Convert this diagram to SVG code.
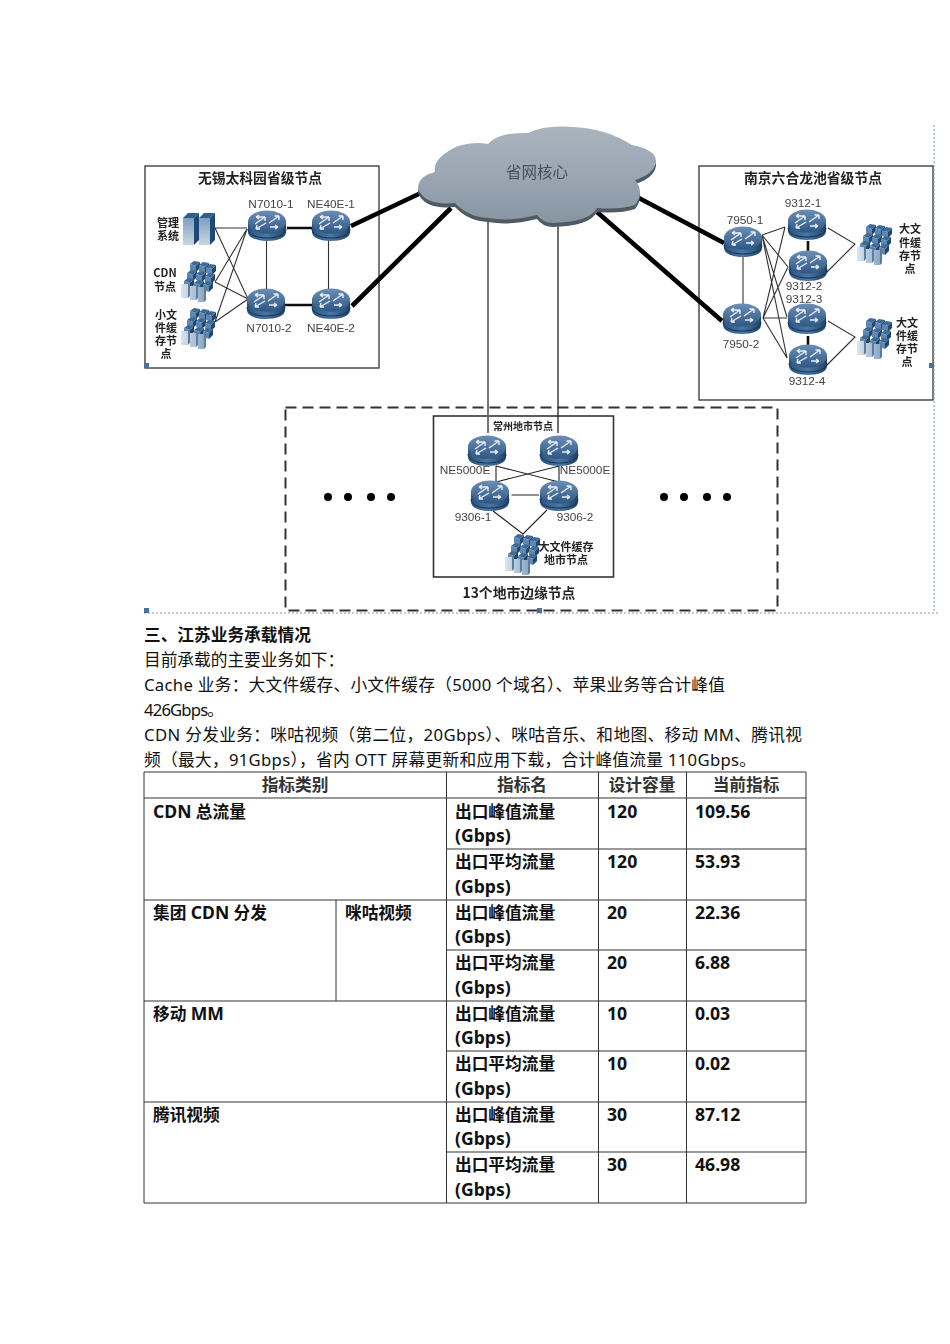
<svg xmlns="http://www.w3.org/2000/svg" xmlns:xlink="http://www.w3.org/1999/xlink" width="950" height="1344" viewBox="0 0 950 1344">
<style>
text{font-family:"Open Sans","Noto Sans CJK SC",sans-serif;fill:#111}
.lb{font-size:11.8px;fill:#444;text-anchor:middle;font-family:"Liberation Sans","Noto Sans CJK SC",sans-serif}
.tt{font-size:13.8px;font-weight:700;fill:#222;text-anchor:middle;font-family:"Noto Sans CJK SC",sans-serif}
.sm{font-size:11px;font-weight:700;fill:#222;text-anchor:middle;font-family:"Noto Sans CJK SC",sans-serif}
.box{fill:#fff;stroke:#333;stroke-width:1.3}
.thin{stroke:#333;stroke-width:1.1;fill:none}
.mid{stroke:#111;stroke-width:2.6;fill:none}
.thick{stroke:#000;stroke-width:4.6;fill:none}
.sel{stroke:#7d97b3;stroke-width:1;stroke-dasharray:2 2;fill:none}
.h{fill:#4a7099}
.body{font-size:16.7px;font-family:"Noto Sans","Noto Sans CJK SC",sans-serif}
.b{font-size:16.7px;font-weight:700;font-family:"Noto Sans","Noto Sans CJK SC",sans-serif}
.n{font-size:17.6px;font-weight:700;font-family:"Noto Sans","Noto Sans CJK SC",sans-serif}
.hd{font-size:16.7px;font-weight:700;fill:#333;text-anchor:middle;font-family:"Noto Sans CJK SC",sans-serif}
.grid{stroke:#333;stroke-width:1;fill:none}
</style>
<defs>
<linearGradient id="rt" x1="0" y1="0" x2="0" y2="1"><stop offset="0" stop-color="#6b8fb6"/><stop offset="1" stop-color="#2f5785"/></linearGradient>
<linearGradient id="rb" x1="0" y1="0" x2="1" y2="0"><stop offset="0" stop-color="#2a547f"/><stop offset=".5" stop-color="#4a76a3"/><stop offset="1" stop-color="#1f4369"/></linearGradient>
<linearGradient id="cl" x1="0" y1="0" x2="0" y2="1"><stop offset="0" stop-color="#a9b4be"/><stop offset=".5" stop-color="#9aa6b2"/><stop offset="1" stop-color="#8795a3"/></linearGradient>
<linearGradient id="sv" x1="0" y1="0" x2="1" y2="0"><stop offset="0" stop-color="#dce5ed"/><stop offset="1" stop-color="#8aa8c4"/></linearGradient>
<linearGradient id="sv2" x1="0" y1="0" x2="0" y2="1"><stop offset="0" stop-color="#7f9fbf"/><stop offset="1" stop-color="#c9d6e2"/></linearGradient>
<filter id="soft" x="-2%" y="-2%" width="104%" height="104%"><feGaussianBlur stdDeviation="0.45"/></filter>
<path id="cloudshape" d="M418 189Q418 176 435 172Q432 158 458 146Q475 141 488 144Q498 132 528 133Q545 125 572 127Q605 128 632 145Q657 150 656 162Q654 174 635 180Q645 192 635 205Q620 210 597 208Q590 222 552 223Q542 222 537 215Q510 222 488 218Q468 217 455 203Q425 206 418 189Z"/>
<g id="router">
<path d="M-19 -4V6C-19 12 -10 15 0 15S19 12 19 6V-4Z" fill="url(#rb)"/>
<path d="M-19 3C-19 9 -10 12 0 12S19 9 19 3" fill="none" stroke="#16324f" stroke-width="1"/>
<ellipse cx="0" cy="-4" rx="19" ry="11.500" fill="url(#rt)"/>
<path d="M-12 -2L-2 -9M-2 -9H-6.500M-2 -9V-5M12 -10L2 -3M12 -10H7.500M12 -10V-6M-11 -9H-3M-11 -9L-8 -11M-11 -9L-8 -7M11 1H3M11 1L8 -1M11 1L8 3M-11 3L-1 -3M-11 3H-7M-11 3L-10 -1" stroke="#e8eef5" stroke-width="1.4" fill="none"/>
</g>
<g id="srv"><rect x="0" y="3" width="11" height="27" fill="url(#sv2)"/><path d="M0 3L5 -2H16L11 3Z" fill="#2f5e90"/><path d="M11 3L16 -2V25L11 30Z" fill="#1f4a78"/></g>
<g id="pair"><use xlink:href="#srv" x="0" y="3"/><use xlink:href="#srv" x="16" y="3"/></g>
<g id="tile"><path d="M0 3L4 0L10 1L6 5Z" fill="#3d6a99"/><path d="M0 3L6 5V11L0 9Z" fill="#5d87b0"/><path d="M6 5L10 1V7L6 11Z" fill="#23466d"/></g>
<g id="cluster">
<use xlink:href="#tile" x="9" y="0"/><use xlink:href="#tile" x="18" y="1"/><use xlink:href="#tile" x="25" y="3"/>
<use xlink:href="#tile" x="6" y="9"/><use xlink:href="#tile" x="15" y="10"/><use xlink:href="#tile" x="24" y="12"/>
<use xlink:href="#tile" x="3" y="17"/><use xlink:href="#tile" x="13" y="19"/><use xlink:href="#tile" x="22" y="20"/>
<path d="M0 23H7V37H0ZM9 25H15V39H9ZM17 26H23V41H17Z" fill="url(#sv)"/>
<path d="M7 23L9 21V35L7 37ZM15 25L17 23V37L15 39ZM23 26L25 24V39L23 41Z" fill="#5d7d9d"/>
</g>
</defs>

<g id="diagram" filter="url(#soft)">
<g id="box-wuxi"><rect class="box" x="145" y="166" width="234" height="202"/><text class="tt" x="260" y="183">无锡太科园省级节点</text></g>
<g id="box-nanjing"><rect class="box" x="699" y="166" width="234" height="234"/><text class="tt" x="813" y="183">南京六合龙池省级节点</text></g>
<g id="box-edge"><rect x="285.500" y="407.500" width="492" height="203" fill="none" stroke="#333" stroke-width="2" stroke-dasharray="11 6"/></g>
<g id="box-changzhou"><rect class="box" x="433.500" y="416" width="180" height="161" style="stroke-width:1.6"/><text class="sm" x="523" y="430" style="font-size:10px">常州地市节点</text></g>

<g id="connectors">
<path class="thin" d="M215 228H247M215 228L248 299M215 282L247 229M215 282L248 299M215 322L247 229M215 322L248 299"/>
<path class="mid" d="M287 228H312M285 305H312"/>
<path class="thin" d="M266.500 240V290M328.500 240V290"/>
<path class="thick" d="M351 226L423 192M352 306L451 208"/>
<path class="thick" d="M637 197L724 243M597 212L722 321"/>
<path d="M488 218V433" fill="none" stroke="#666" stroke-width="1.8"/>
<path d="M558 220V433" fill="none" stroke="#222" stroke-width="1.3"/>
<path class="thin" d="M743 254V305"/>
<path class="thin" d="M762 235L785 227M762 235L788 267M762 235L787 317M762 235L787 358M763 318L785 227M763 318L788 267M763 318L787 318M763 318L787 358"/>
<path class="mid" d="M808 241V252M808 336V346"/>
<path class="thin" d="M828 228L855 244L826 273M828 321L855 337L826 366"/>
<path class="thin" d="M496 466L559 482M559 466L496 482M496 466V482M559 466V482M511.500 495H539M493 511L523 534L547 510" style="stroke:#222"/>
</g>

<g id="cloud">
<use xlink:href="#cloudshape" fill="#4f5a64" transform="translate(0,4)"/>
<use xlink:href="#cloudshape" fill="url(#cl)"/>
<text x="537" y="178" font-size="15.500" text-anchor="middle" style="fill:#47505a;font-family:'Noto Sans CJK SC',sans-serif">省网核心</text>
</g>

<g id="wuxi-nodes">
<g id="mgmt"><use xlink:href="#pair" x="183" y="212"/><text class="sm" x="168" y="227">管理</text><text class="sm" x="168" y="240">系统</text></g>
<g id="cdn"><use xlink:href="#cluster" x="181" y="261"/><text class="sm" x="165" y="277">CDN</text><text class="sm" x="165" y="291">节点</text></g>
<g id="small-cache"><use xlink:href="#cluster" x="181" y="308"/><text class="sm" x="166" y="319">小文</text><text class="sm" x="166" y="332">件缓</text><text class="sm" x="166" y="345">存节</text><text class="sm" x="166" y="358">点</text></g>
<g id="n7010-1"><use xlink:href="#router" x="267" y="226"/><text class="lb" x="271" y="208">N7010-1</text></g>
<g id="ne40e-1"><use xlink:href="#router" x="331" y="226"/><text class="lb" x="331" y="208">NE40E-1</text></g>
<g id="n7010-2"><use xlink:href="#router" x="266" y="304"/><text class="lb" x="269" y="332">N7010-2</text></g>
<g id="ne40e-2"><use xlink:href="#router" x="331" y="304"/><text class="lb" x="331" y="332">NE40E-2</text></g>
</g>

<g id="nanjing-nodes">
<g id="r7950-1"><use xlink:href="#router" x="743" y="242"/><text class="lb" x="745" y="224">7950-1</text></g>
<g id="r7950-2"><use xlink:href="#router" x="742" y="319"/><text class="lb" x="741" y="348">7950-2</text></g>
<g id="r9312-1"><use xlink:href="#router" x="807" y="225"/><text class="lb" x="803" y="207">9312-1</text></g>
<g id="r9312-2"><use xlink:href="#router" x="808" y="266"/><text class="lb" x="804" y="290">9312-2</text></g>
<g id="r9312-3"><use xlink:href="#router" x="807" y="319"/><text class="lb" x="804" y="303">9312-3</text></g>
<g id="r9312-4"><use xlink:href="#router" x="808" y="360"/><text class="lb" x="807" y="385">9312-4</text></g>
<g id="cache-a"><use xlink:href="#cluster" x="857" y="224"/><text class="sm" x="910" y="233">大文</text><text class="sm" x="910" y="247">件缓</text><text class="sm" x="910" y="260">存节</text><text class="sm" x="910" y="273">点</text></g>
<g id="cache-b"><use xlink:href="#cluster" x="857" y="318"/><text class="sm" x="907" y="327">大文</text><text class="sm" x="907" y="340">件缓</text><text class="sm" x="907" y="353">存节</text><text class="sm" x="907" y="366">点</text></g>
</g>

<g id="changzhou-nodes">
<g id="ne5000-1"><use xlink:href="#router" x="487" y="451"/><text class="lb" x="465" y="474">NE5000E</text></g>
<g id="ne5000-2"><use xlink:href="#router" x="559" y="451"/><text class="lb" x="585" y="474">NE5000E</text></g>
<g id="s9306-1"><use xlink:href="#router" x="490" y="496"/><text class="lb" x="473" y="521">9306-1</text></g>
<g id="s9306-2"><use xlink:href="#router" x="559" y="496"/><text class="lb" x="575" y="521">9306-2</text></g>
<g id="cache-c"><use xlink:href="#cluster" x="505" y="534"/><text class="sm" x="566" y="551">大文件缓存</text><text class="sm" x="566" y="564">地市节点</text></g>
</g>
<text x="519" y="598" font-size="13.800" font-weight="700" text-anchor="middle" style="fill:#222;font-family:'Noto Sans CJK SC',sans-serif">13个地市边缘节点</text>
<g id="dots" fill="#000"><circle cx="328" cy="497" r="4"/><circle cx="348" cy="497" r="4"/><circle cx="371" cy="497" r="4"/><circle cx="391" cy="497" r="4"/><circle cx="664" cy="497" r="4"/><circle cx="684" cy="497" r="4"/><circle cx="707" cy="497" r="4"/><circle cx="727" cy="497" r="4"/></g>
</g>

<g id="selection">
<path class="sel" d="M144 613H938M934 125V613"/>
<rect class="h" x="144" y="363" width="5" height="5"/><rect class="h" x="929" y="363" width="5" height="5"/><rect class="h" x="144" y="608" width="5" height="5"/><rect class="h" x="537" y="608" width="5" height="5"/>
</g>

<g id="text-block">
<text class="b" x="144" y="641">三、江苏业务承载情况</text>
<text class="body" x="144" y="666">目前承载的主要业务如下：</text>
<text class="body" x="144" y="691" textLength="581" lengthAdjust="spacing">Cache 业务：大文件缓存、小文件缓存（5000 个域名）、苹果业务等合计峰值</text>
<text class="body" x="144" y="716" textLength="80" lengthAdjust="spacing">426Gbps。</text>
<text class="body" x="144" y="741" textLength="658" lengthAdjust="spacing">CDN 分发业务：咪咕视频（第二位，20Gbps）、咪咕音乐、和地图、移动 MM、腾讯视</text>
<text class="body" x="144" y="766" textLength="612" lengthAdjust="spacing">频（最大，91Gbps），省内 OTT 屏幕更新和应用下载，合计峰值流量 110Gbps。</text>
</g>

<g id="table">
<path class="grid" d="M144 772H806M144 798H806M446 849H806M144 900H806M446 950H806M144 1001H806M446 1051H806M144 1102H806M446 1152H806M144 1203H806"/>
<path class="grid" d="M144 772V1203M446.500 772V1203M598.500 772V1203M686.500 772V1203M806 772V1203M336 900V1001"/>
<text class="hd" x="295" y="791">指标类别</text><text class="hd" x="522" y="791">指标名</text><text class="hd" x="642" y="791">设计容量</text><text class="hd" x="746" y="791">当前指标</text>
<text class="b" x="153" y="818"><tspan class="n">CDN</tspan> 总流量</text>
<text class="b" x="153" y="919">集团 <tspan class="n">CDN</tspan> 分发</text><text class="b" x="345" y="919">咪咕视频</text>
<text class="b" x="153" y="1020">移动 <tspan class="n">MM</tspan></text>
<text class="b" x="153" y="1121">腾讯视频</text>
<g class="rows">
<text class="b" x="455" y="818">出口峰值流量</text><text class="n" x="455" y="842">(Gbps)</text><text class="n" x="607" y="818">120</text><text class="n" x="695" y="818">109.56</text>
<text class="b" x="455" y="868">出口平均流量</text><text class="n" x="455" y="893">(Gbps)</text><text class="n" x="607" y="868">120</text><text class="n" x="695" y="868">53.93</text>
<text class="b" x="455" y="919">出口峰值流量</text><text class="n" x="455" y="943">(Gbps)</text><text class="n" x="607" y="919">20</text><text class="n" x="695" y="919">22.36</text>
<text class="b" x="455" y="969">出口平均流量</text><text class="n" x="455" y="994">(Gbps)</text><text class="n" x="607" y="969">20</text><text class="n" x="695" y="969">6.88</text>
<text class="b" x="455" y="1020">出口峰值流量</text><text class="n" x="455" y="1044">(Gbps)</text><text class="n" x="607" y="1020">10</text><text class="n" x="695" y="1020">0.03</text>
<text class="b" x="455" y="1070">出口平均流量</text><text class="n" x="455" y="1095">(Gbps)</text><text class="n" x="607" y="1070">10</text><text class="n" x="695" y="1070">0.02</text>
<text class="b" x="455" y="1121">出口峰值流量</text><text class="n" x="455" y="1145">(Gbps)</text><text class="n" x="607" y="1121">30</text><text class="n" x="695" y="1121">87.12</text>
<text class="b" x="455" y="1171">出口平均流量</text><text class="n" x="455" y="1196">(Gbps)</text><text class="n" x="607" y="1171">30</text><text class="n" x="695" y="1171">46.98</text>
</g>
</g>
</svg>
